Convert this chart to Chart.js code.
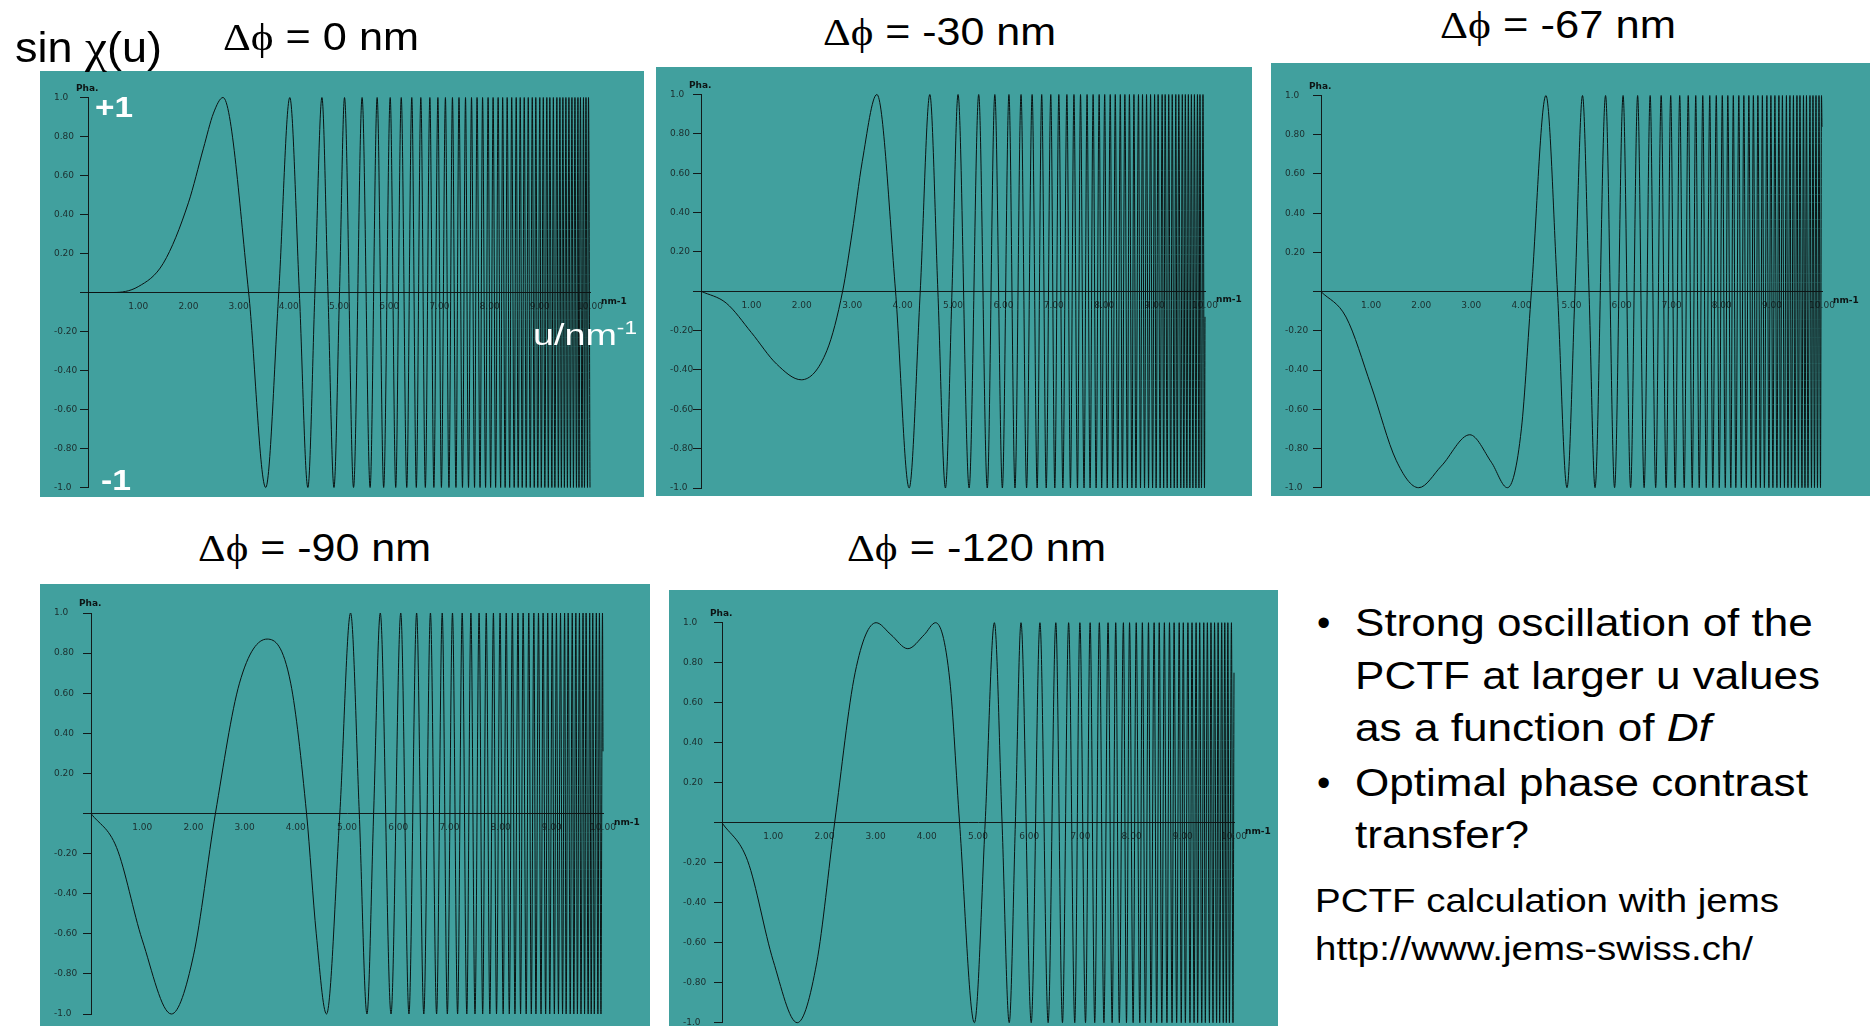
<!DOCTYPE html>
<html>
<head>
<meta charset="utf-8">
<title>PCTF sin chi(u)</title>
<script src="https://cdn.jsdelivr.net/npm/chart.js@4.4.1/dist/chart.umd.min.js"></script>
<style>
  html, body { margin: 0; padding: 0; }
  body { width: 1870px; height: 1026px; position: relative; overflow: hidden; background: #fff;
         font-family: "Liberation Sans", Arial, sans-serif; color: #000; }
  canvas.panel { position: absolute; background: #41a09e; }
  .t { position: absolute; white-space: nowrap; line-height: 1.2; transform-origin: 0 0; }
  .sym { font-family: "Liberation Serif", "DejaVu Serif", serif; }
  .w { color: #fff; z-index: 2; }
  .b { font-weight: bold; }
  sup { font-size: 0.6em; vertical-align: 0.6em; line-height: 0; }
</style>
</head>
<body>
<canvas class="panel" id="p0" width="604" height="426" style="left:40px;top:71px"></canvas>
<canvas class="panel" id="p1" width="596" height="429" style="left:656px;top:67px"></canvas>
<canvas class="panel" id="p2" width="599" height="433" style="left:1271px;top:63px"></canvas>
<canvas class="panel" id="p3" width="610" height="442" style="left:40px;top:584px"></canvas>
<canvas class="panel" id="p4" width="609" height="436" style="left:669px;top:590px"></canvas>

<div class="t" data-l="15" data-b="62" data-w="147" style="font-size:42px">sin <span class="sym" style="font-size:1.1em">χ</span>(u)</div>
<div class="t title" data-l="223" data-b="50" data-w="196" style="font-size:38px"></div>
<div class="t title" data-l="823" data-b="45" data-w="233" style="font-size:38px"></div>
<div class="t title" data-l="1440" data-b="38" data-w="236" style="font-size:38px"></div>
<div class="t title" data-l="198" data-b="561" data-w="233" style="font-size:38px"></div>
<div class="t title" data-l="847" data-b="561" data-w="259" style="font-size:38px"></div>

<div class="t w b" data-l="95" data-b="117" data-w="38" style="font-size:30px">+1</div>
<div class="t w b" data-l="101" data-b="490" data-w="30" style="font-size:30px">-1</div>
<div class="t w" data-l="533" data-b="345" data-w="104" style="font-size:30px">u/nm<sup>-1</sup></div>

<div class="t" data-l="1317" data-b="636" style="font-size:38px">•</div>
<div class="t" data-l="1355" data-b="636" data-w="458" style="font-size:38px">Strong oscillation of the</div>
<div class="t" data-l="1355" data-b="689" data-w="465" style="font-size:38px">PCTF at larger u values</div>
<div class="t" data-l="1355" data-b="741" data-w="356" style="font-size:38px">as a function of <i>Df</i></div>
<div class="t" data-l="1317" data-b="796" style="font-size:38px">•</div>
<div class="t" data-l="1355" data-b="796" data-w="453" style="font-size:38px">Optimal phase contrast</div>
<div class="t" data-l="1355" data-b="848" data-w="174" style="font-size:38px">transfer?</div>
<div class="t" data-l="1315" data-b="912" data-w="464" style="font-size:33px">PCTF calculation with jems</div>
<div class="t" data-l="1315" data-b="960" data-w="438" style="font-size:33px">http://www.jems-swiss.ch/</div>

<script>
// defocus of each panel (nm)
const defocus = ['0', '-30', '-67', '-90', '-120'];

// axis ticks
const xTickValues = [0, 1, 2, 3, 4, 5, 6, 7, 8, 9, 10];
const xTickLabels = ['', '1.00', '2.00', '3.00', '4.00', '5.00', '6.00', '7.00', '8.00', '9.00', '10.00'];
const yTickValues = [-1, -0.8, -0.6, -0.4, -0.2, 0, 0.2, 0.4, 0.6, 0.8, 1];
const yTickLabels = ['-1.0', '-0.80', '-0.60', '-0.40', '-0.20', '', '0.20', '0.40', '0.60', '0.80', '1.0'];

// u (nm-1) of the maxima (+1) and minima (-1)
const peaks0 = [2.69, 4.02, 4.66, 5.11, 5.46, 5.76, 6.02, 6.24, 6.45, 6.63, 6.81, 6.97, 7.12, 7.26, 7.39, 7.52, 7.64, 7.75, 7.86, 7.97, 8.07, 8.17, 8.26, 8.35, 8.44, 8.53, 8.61, 8.69, 8.77, 8.85, 8.92, 9.00, 9.07, 9.14, 9.20, 9.27, 9.34, 9.40, 9.46, 9.52, 9.58, 9.64, 9.70, 9.76, 9.81, 9.87, 9.92, 9.97];
const troughs0 = [3.54, 4.38, 4.90, 5.29, 5.62, 5.89, 6.13, 6.35, 6.54, 6.72, 6.89, 7.04, 7.19, 7.33, 7.46, 7.58, 7.70, 7.81, 7.92, 8.02, 8.12, 8.22, 8.31, 8.40, 8.49, 8.57, 8.65, 8.73, 8.81, 8.89, 8.96, 9.03, 9.10, 9.17, 9.24, 9.30, 9.37, 9.43, 9.49, 9.55, 9.61, 9.67, 9.73, 9.78, 9.84, 9.89, 9.95];
const peaks30 = [3.49, 4.54, 5.10, 5.51, 5.83, 6.11, 6.35, 6.57, 6.76, 6.94, 7.10, 7.26, 7.40, 7.53, 7.66, 7.78, 7.90, 8.01, 8.12, 8.22, 8.32, 8.41, 8.50, 8.59, 8.68, 8.76, 8.84, 8.92, 9.00, 9.07, 9.15, 9.21, 9.28, 9.35, 9.42, 9.48, 9.55, 9.61, 9.67, 9.73, 9.79, 9.85, 9.90, 9.96];
const troughs30 = [4.13, 4.85, 5.32, 5.68, 5.98, 6.23, 6.46, 6.67, 6.85, 7.02, 7.18, 7.33, 7.47, 7.60, 7.72, 7.84, 7.95, 8.06, 8.17, 8.27, 8.36, 8.46, 8.55, 8.63, 8.72, 8.80, 8.88, 8.96, 9.03, 9.11, 9.18, 9.25, 9.32, 9.39, 9.45, 9.52, 9.58, 9.64, 9.70, 9.76, 9.82, 9.88, 9.93, 9.99];
const peaks67 = [4.49, 5.22, 5.68, 6.03, 6.32, 6.57, 6.79, 6.98, 7.16, 7.33, 7.48, 7.62, 7.76, 7.89, 8.01, 8.12, 8.23, 8.34, 8.44, 8.54, 8.63, 8.72, 8.81, 8.90, 8.98, 9.06, 9.14, 9.21, 9.29, 9.36, 9.43, 9.50, 9.56, 9.63, 9.69, 9.76, 9.82, 9.88, 9.94, 9.99];
const troughs67 = [1.95, 3.72, 4.91, 5.47, 5.86, 6.18, 6.45, 6.68, 6.89, 7.07, 7.25, 7.41, 7.55, 7.69, 7.82, 7.95, 8.07, 8.18, 8.28, 8.39, 8.49, 8.59, 8.68, 8.77, 8.85, 8.94, 9.02, 9.10, 9.17, 9.25, 9.32, 9.39, 9.46, 9.53, 9.60, 9.66, 9.72, 9.79, 9.85, 9.91, 9.97];
const peaks90 = [5.07, 5.65, 6.05, 6.36, 6.63, 6.86, 7.06, 7.25, 7.42, 7.58, 7.72, 7.86, 7.99, 8.11, 8.23, 8.34, 8.44, 8.55, 8.65, 8.74, 8.83, 8.92, 9.01, 9.09, 9.17, 9.25, 9.32, 9.40, 9.47, 9.54, 9.61, 9.67, 9.74, 9.80, 9.87, 9.93, 9.99];
const troughs90 = [1.57, 4.60, 5.39, 5.86, 6.21, 6.50, 6.75, 6.96, 7.16, 7.34, 7.50, 7.65, 7.79, 7.92, 8.05, 8.17, 8.28, 8.39, 8.50, 8.60, 8.69, 8.79, 8.88, 8.96, 9.05, 9.13, 9.21, 9.28, 9.36, 9.43, 9.50, 9.57, 9.64, 9.71, 9.77, 9.83, 9.90, 9.96];
const peaks120 = [3.01, 4.17, 5.32, 5.84, 6.21, 6.52, 6.77, 6.99, 7.19, 7.37, 7.54, 7.69, 7.84, 7.96, 8.09, 8.21, 8.33, 8.44, 8.54, 8.64, 8.74, 8.83, 8.93, 9.01, 9.10, 9.18, 9.26, 9.33, 9.41, 9.48, 9.55, 9.62, 9.69, 9.76, 9.82, 9.88, 9.95];
const troughs120 = [1.47, 4.93, 5.61, 6.04, 6.37, 6.65, 6.89, 7.10, 7.28, 7.46, 7.62, 7.76, 7.90, 8.03, 8.16, 8.27, 8.38, 8.49, 8.59, 8.69, 8.79, 8.88, 8.97, 9.05, 9.14, 9.22, 9.29, 9.37, 9.44, 9.52, 9.59, 9.66, 9.72, 9.79, 9.85, 9.91, 9.98];

// other points on the curves [u, sin chi]: slow start, zero crossings, shallow turns, end
const shape0 = [[0, 0], [0.5, 0], [1.0, 0.03], [1.5, 0.15], [2.0, 0.46], [2.3, 0.74], [2.5, 0.92], [3.2, 0], [3.8, 0], [4.21, 0], [4.52, 0], [4.78, 0], [5.01, 0], [10, -1]];
const shape30 = [[0, 0], [0.5, -0.06], [1.0, -0.21], [1.5, -0.37], [1.99, -0.45], [2.5, -0.3], [2.81, 0], [3.0, 0.3], [3.2, 0.66], [3.86, 0], [4.35, 0], [4.7, 0], [4.98, 0], [10, -0.13]];
const shape67 = [[0, 0], [0.5, -0.13], [1.0, -0.48], [1.5, -0.86], [2.4, -0.89], [2.97, -0.73], [3.4, -0.87], [4.0, -0.7], [4.2, 0], [4.72, 0], [5.07, 0], [5.35, 0], [10, 0.84]];
const shape90 = [[0, 0], [0.5, -0.17], [1.0, -0.63], [2.0, -0.71], [2.43, 0], [2.9, 0.65], [3.44, 0.87], [3.9, 0.65], [4.21, 0], [4.4, -0.6], [4.86, 0], [5.24, 0], [5.52, 0], [10, 0.31]];
const shape120 = [[0, 0], [0.5, -0.19], [1.0, -0.69], [1.85, -0.7], [2.2, 0], [2.6, 0.75], [3.3, 0.94], [3.63, 0.87], [3.95, 0.94], [4.45, 0.71], [4.64, 0], [5.14, 0], [5.47, 0], [5.73, 0], [10, 0.75]];

function buildSeries(peaks, troughs, shape) {
  const pts = peaks.map(u => ({x: u, y: 1}))
    .concat(troughs.map(u => ({x: u, y: -1})))
    .concat(shape.map(p => ({x: p[0], y: p[1]})));
  return pts.sort((a, b) => a.x - b.x);
}

const panels = [
  {id: 'p0', data: buildSeries(peaks0, troughs0, shape0), yw: 34, pad: {top: 26.5, right: 54, bottom: 9.5}},
  {id: 'p1', data: buildSeries(peaks30, troughs30, shape30), yw: 31, pad: {top: 27.5, right: 47, bottom: 8}},
  {id: 'p2', data: buildSeries(peaks67, troughs67, shape67), yw: 36, pad: {top: 32.5, right: 48, bottom: 8.3}},
  {id: 'p3', data: buildSeries(peaks90, troughs90, shape90), yw: 37, pad: {top: 29, right: 47, bottom: 12}},
  {id: 'p4', data: buildSeries(peaks120, troughs120, shape120), yw: 39, pad: {top: 32.7, right: 44, bottom: 3.3}}
];

const axisColor = '#121a1a';
const tickColor = '#1b2e2e';
const tickFont = {family: 'DejaVu Sans', size: 9};

// "Pha." over the y axis, "nm-1" after the x axis
const axisNotes = {
  id: 'axisNotes',
  afterDraw(chart) {
    const {ctx, chartArea: a} = chart;
    const y0 = chart.scales.y.getPixelForValue(0);
    ctx.save();
    ctx.fillStyle = '#0d1414';
    ctx.font = 'bold 9px "DejaVu Sans"';
    ctx.fillText('Pha.', a.left - 12, a.top - 7);
    ctx.fillText('nm-1', a.right + 11, y0 + 11);
    ctx.restore();
  }
};

panels.forEach(p => {
  new Chart(document.getElementById(p.id), {
    type: 'line',
    data: {
      datasets: [{
        data: p.data,
        borderColor: '#0a1212',
        borderWidth: 1,
        pointRadius: 0,
        fill: false,
        cubicInterpolationMode: 'monotone',
        clip: false
      }]
    },
    options: {
      responsive: false,
      animation: false,
      devicePixelRatio: 1,
      events: [],
      layout: {padding: {left: 14, top: p.pad.top, right: p.pad.right, bottom: p.pad.bottom}},
      plugins: {legend: {display: false}, tooltip: {enabled: false}},
      scales: {
        x: {
          type: 'linear', min: 0, max: 10,
          position: {y: 0},
          afterBuildTicks: s => { s.ticks = xTickValues.map(v => ({value: v})); },
          afterFit: s => { s.paddingLeft = 0; s.paddingRight = 0; },
          grid: {drawOnChartArea: false, drawTicks: false},
          border: {display: true, color: axisColor, width: 1},
          ticks: {autoSkip: false, maxRotation: 0, padding: 9, color: tickColor, font: tickFont,
                  callback: (v, i) => xTickLabels[i]}
        },
        y: {
          type: 'linear', min: -1, max: 1,
          position: 'left',
          afterBuildTicks: s => { s.ticks = yTickValues.map(v => ({value: v})); },
          afterFit: s => { s.width = p.yw; s.paddingTop = 0; s.paddingBottom = 0; },
          grid: {drawOnChartArea: false, drawTicks: true, tickLength: 8, color: axisColor, tickColor: axisColor},
          border: {display: true, color: axisColor, width: 1},
          ticks: {autoSkip: false, crossAlign: 'far', padding: 0, color: tickColor, font: tickFont,
                  callback: (v, i) => yTickLabels[i]}
        }
      }
    },
    plugins: [axisNotes]
  });
});

// titles
document.querySelectorAll('.title').forEach((el, i) => {
  el.innerHTML = '<span class="sym">\u0394\u03d5</span> = ' + defocus[i] + ' nm';
});

// put slide texts on their baselines and stretch them to the measured widths
document.querySelectorAll('.t').forEach(el => {
  const mark = document.createElement('span');
  mark.style.display = 'inline-block';
  mark.style.width = '0';
  mark.style.height = '0';
  el.appendChild(mark);
  el.style.left = el.dataset.l + 'px';
  el.style.top = (el.dataset.b - mark.offsetTop) + 'px';
  if (el.dataset.w) {
    const w = el.getBoundingClientRect().width;
    el.style.transform = 'scaleX(' + (el.dataset.w / w).toFixed(3) + ')';
  }
});
</script>
</body>
</html>
